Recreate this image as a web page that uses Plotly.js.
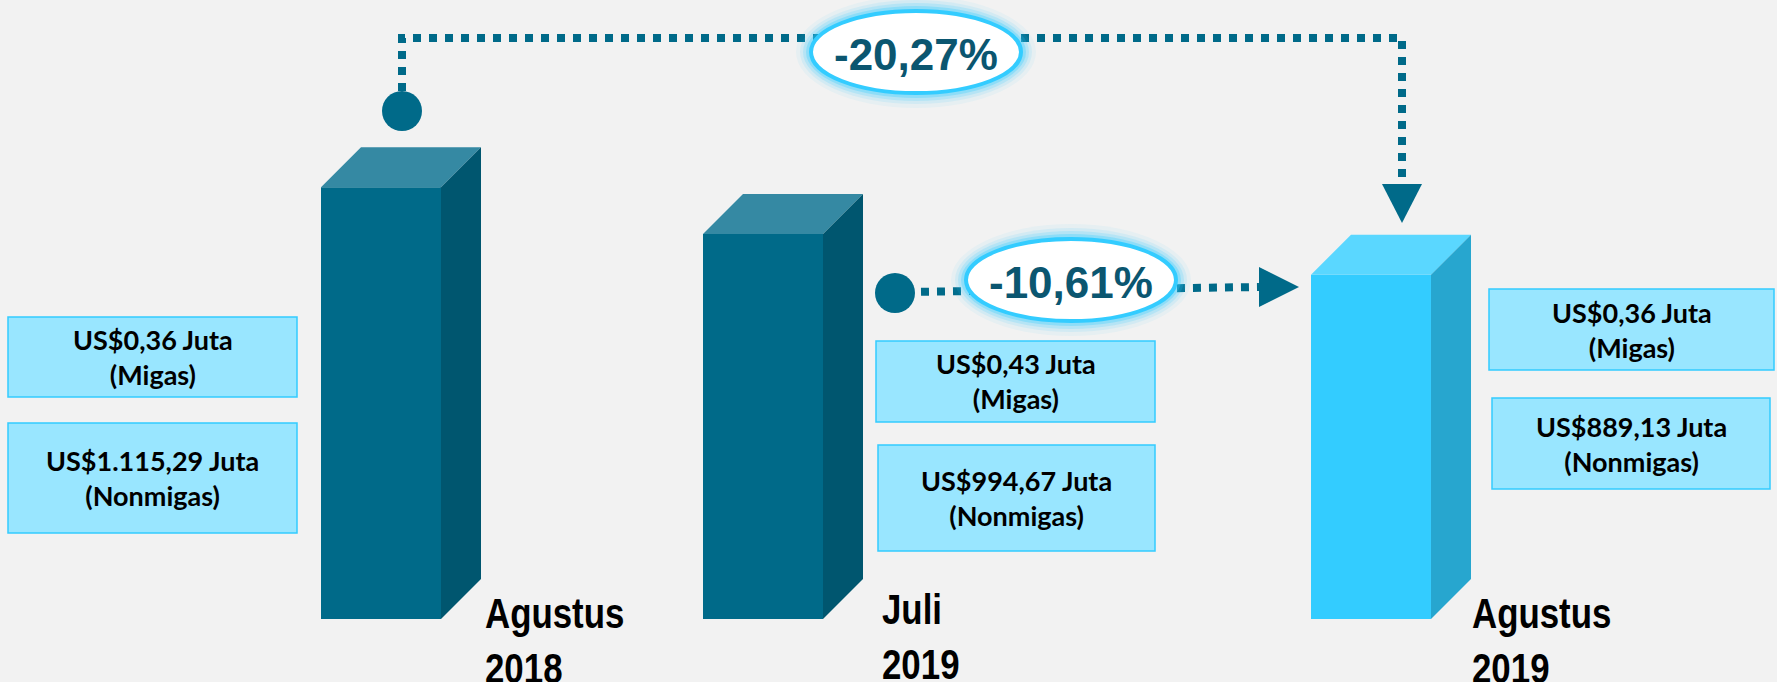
<!DOCTYPE html>
<html><head><meta charset="utf-8">
<script src="https://cdn.plot.ly/plotly-3.0.1.min.js"></script>
<style>html,body{margin:0;padding:0;background:#F2F2F2;overflow:hidden}#chart{width:1777px;height:682px}</style>
</head><body><div id="chart"></div>
<script>
// ---- data ----
const categories = ['Agustus 2018', 'Juli 2019', 'Agustus 2019'];
const migas = [0.36, 0.43, 0.36];
const nonmigas = [1115.29, 994.67, 889.13];
// comparisons: [from index, to index]
const comparisons = [[0, 2], [1, 2]];

// ---- layout constants (pixels) ----
const W = 1777, H = 682;
const BASE_PX = 619, K = 0.387;         // baseline pixel, px per unit
const barCenters = [381, 763, 1371];
const BW = 120, D = 40;
const frontCol = ['#006A89', '#006A89', '#33CCFF'];
const sideCol = ['#00566F', '#00566F', '#27A6CF'];
const topCol = ['#3589A3', '#3589A3', '#5AD7FF'];
const labelPos = [[483, 598], [880, 594], [1470, 598]];
const migasBox = [[8, 317, 297, 397], [876, 341, 1155, 422], [1489, 289, 1774, 370]];
const nonBox = [[8, 423, 297, 533], [878, 445, 1155, 551], [1492, 398, 1770, 489]];
const ellipses = [[916, 52], [1071, 280]];
const ERX = 107, ERY = 43;
const LINE_COL = '#006A89';
const NARROW = 0.83;

const totals = migas.map((m, i) => m + nonmigas[i]);
function fmtID(v) {
  const s = v.toFixed(2); let [a, b] = s.split('.');
  a = a.replace(/\B(?=(\d{3})+(?!\d))/g, '.');
  return a + ',' + b;
}
const py = p => 1 - p / H;
const dyU = D / K;

const traces = [];
traces.push({
  type: 'bar', x: barCenters, y: totals, width: BW,
  marker: {color: frontCol, line: {width: 0}}, hoverinfo: 'skip', showlegend: false
});
totals.forEach((v, i) => {
  const x0 = barCenters[i] - BW / 2, x1 = barCenters[i] + BW / 2;
  traces.push({type: 'scatter', mode: 'lines', x: [x0, x0 + D, x1 + D, x1, x0], y: [v, v + dyU, v + dyU, v, v],
    fill: 'toself', fillcolor: topCol[i], line: {width: 0}, hoverinfo: 'skip', showlegend: false});
  traces.push({type: 'scatter', mode: 'lines', x: [x1, x1, x1 + D, x1 + D, x1], y: [0, v, v + dyU, dyU, 0],
    fill: 'toself', fillcolor: sideCol[i], line: {width: 0}, hoverinfo: 'skip', showlegend: false});
});

const shapes = [], annotations = [], labelIdx = [];
const dash = '8px,8px';
// connector 1 (bar 0 -> bar 2)
shapes.push({type: 'path', xref: 'x', yref: 'paper', layer: 'above',
  path: `M402,${py(91)} L402,${py(38)} L1402,${py(38)} L1402,${py(184)}`,
  line: {color: LINE_COL, width: 8, dash: dash}});
shapes.push({type: 'circle', xref: 'x', yref: 'paper', layer: 'above', x0: 382, x1: 422, y0: py(131), y1: py(91),
  fillcolor: LINE_COL, line: {width: 0}});
shapes.push({type: 'path', xref: 'x', yref: 'paper', layer: 'above',
  path: `M1382,${py(184)} L1422,${py(184)} L1402,${py(223)} Z`, fillcolor: LINE_COL, line: {width: 0}});
// connector 2 (bar 1 -> bar 2)
shapes.push({type: 'line', xref: 'x', yref: 'paper', layer: 'above', x0: 905, x1: 1259, y0: py(292), y1: py(287),
  line: {color: LINE_COL, width: 8, dash: dash}});
shapes.push({type: 'circle', xref: 'x', yref: 'paper', layer: 'above', x0: 875, x1: 915, y0: py(313), y1: py(273),
  fillcolor: LINE_COL, line: {width: 0}});
shapes.push({type: 'path', xref: 'x', yref: 'paper', layer: 'above',
  path: `M1259,${py(267)} L1299,${py(287)} L1259,${py(307)} Z`, fillcolor: LINE_COL, line: {width: 0}});

// percentage ellipses
comparisons.forEach(([a, b], j) => {
  const [cx, cy] = ellipses[j];
  [[13, 0.06], [9, 0.11], [6, 0.18], [3, 0.3]].forEach(([g, op]) => {
    shapes.push({type: 'circle', xref: 'x', yref: 'paper', layer: 'above',
      x0: cx - ERX - g, x1: cx + ERX + g, y0: py(cy + ERY + g), y1: py(cy - ERY - g),
      fillcolor: `rgba(51,204,255,${op})`, line: {width: 0}});
  });
  shapes.push({type: 'circle', xref: 'x', yref: 'paper', layer: 'above',
    x0: cx - ERX + 2, x1: cx + ERX - 2, y0: py(cy + ERY - 2), y1: py(cy - ERY + 2),
    fillcolor: '#FFFFFF', line: {color: '#33CCFF', width: 4}});
  const pct = (totals[b] - totals[a]) / totals[a] * 100;
  annotations.push({xref: 'x', yref: 'paper', x: cx, y: py(cy + 2), xanchor: 'center', yanchor: 'middle',
    text: '<b>' + fmtID(pct) + '%</b>', showarrow: false,
    font: {family: 'Liberation Sans, Arial, sans-serif', size: 44, color: '#0B5670'}});
});

// value boxes
totals.forEach((v, i) => {
  [[migasBox[i], `US$${fmtID(migas[i])} Juta<br>(Migas)`], [nonBox[i], `US$${fmtID(nonmigas[i])} Juta<br>(Nonmigas)`]].forEach(([bx, txt]) => {
    shapes.push({type: 'rect', xref: 'x', yref: 'paper', layer: 'above', x0: bx[0], x1: bx[2], y0: py(bx[3]), y1: py(bx[1]),
      fillcolor: '#99E6FF', line: {color: '#33CCFF', width: 1.5}});
    annotations.push({xref: 'x', yref: 'paper', x: (bx[0] + bx[2]) / 2, y: py((bx[1] + bx[3]) / 2), xanchor: 'center', yanchor: 'middle',
      text: '<b>' + txt + '</b>', showarrow: false,
      font: {family: 'Lato, Open Sans, sans-serif', size: 27, color: '#000000'}});
  });
  // category label
  const parts = categories[i].split(' ');
  labelIdx.push(annotations.length);
  annotations.push({xref: 'x', yref: 'paper', x: labelPos[i][0], y: py(labelPos[i][1] - 10), xanchor: 'left', yanchor: 'top',
    align: 'left', text: '<b>' + parts.join('<br>') + '</b>', showarrow: false,
    font: {family: 'Liberation Sans, Arial, sans-serif', size: 42, color: '#000000'}});
});

const layout = {
  width: W, height: H, margin: {l: 0, r: 0, t: 0, b: 0},
  paper_bgcolor: '#F2F2F2', plot_bgcolor: '#F2F2F2', showlegend: false,
  xaxis: {range: [0, W], visible: false, fixedrange: true},
  yaxis: {range: [-(H - BASE_PX) / K, BASE_PX / K], visible: false, fixedrange: true},
  shapes: shapes, annotations: annotations
};
Plotly.newPlot('chart', traces, layout, {staticPlot: true, displayModeBar: false}).then(gd => {
  // emulate a narrow (condensed) bold face for the period labels
  labelIdx.forEach(k => {
    const g = gd.querySelector(`.annotation[data-index="${k}"]`);
    if (!g) return;
    const t = g.querySelector('text');
    if (!t) return;
    const bb = t.getBBox();
    const x0 = bb.x;
    const prev = t.getAttribute('transform') || '';
    t.setAttribute('transform', `translate(${x0},0) scale(${NARROW},1) translate(${-x0},0) ${prev}`);
  });
});
</script></body></html>
